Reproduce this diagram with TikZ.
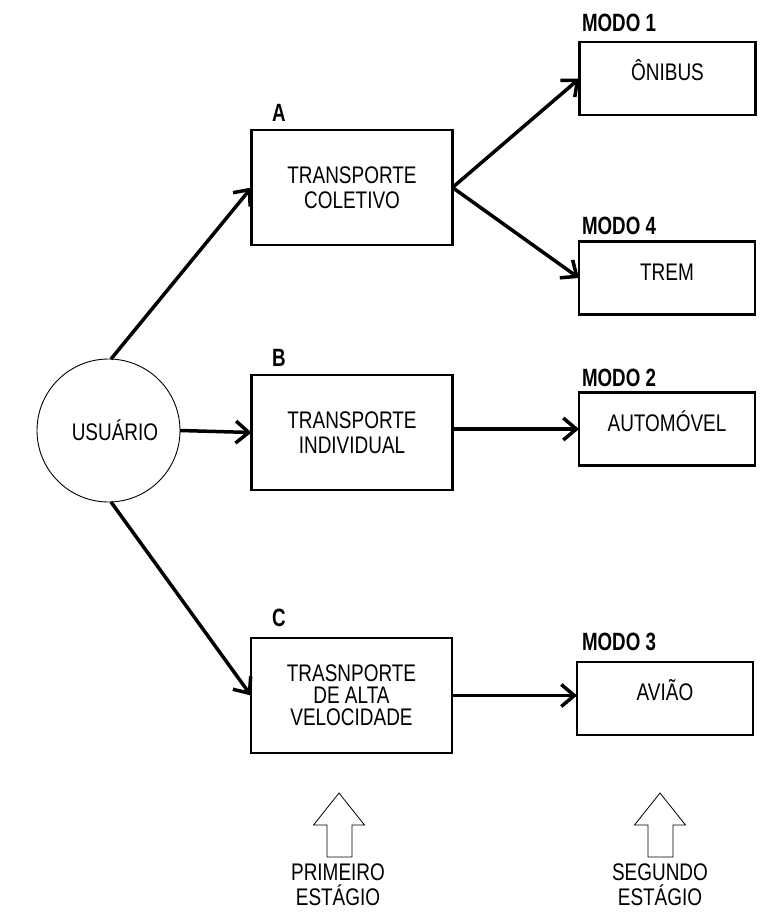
\documentclass[tikz,border=0pt]{standalone}
\usepackage{fontspec}
\setmainfont{Liberation Sans}[FakeStretch=0.79, BoldFeatures={FakeStretch=0.75}]
\usetikzlibrary{arrows.meta}
\begin{document}
\begin{tikzpicture}[x=1pt,y=-1pt,
  every node/.style={inner sep=0pt, outer sep=0pt},
  txt/.style={font=\fontsize{24}{25}\selectfont, align=center},
  lbl/.style={font=\fontsize{25}{25}\selectfont\bfseries, anchor=west},
  firstbox/.style={draw, line width=2.4pt, minimum width=201pt, txt},
  modebox/.style={draw, line width=2.4pt, minimum width=176pt, minimum height=73pt, txt, text height=17pt, text depth=13pt},
  conn/.style={line width=3.5pt, -{Straight Barb[length=13pt,width=22pt,line width=3.5pt]}},
  bigarrow/.style={draw, line width=0.8pt, line join=miter}
]
\useasboundingbox (0,0) rectangle (765,913);

% user
\node[draw, circle, line width=0.9pt, minimum size=143pt] (user) at (108.5,430.5) {};
\node[txt] (usertxt) at (115,430) {USUÁRIO};

% first stage boxes
\node[firstbox, minimum height=115pt] (A) at (352,187.5) {TRANSPORTE\\COLETIVO};
\node[firstbox, minimum height=115pt] (B) at (352,432.5) {TRANSPORTE\\INDIVIDUAL};
\node[firstbox, minimum height=115pt, font=\fontsize{24}{22}\selectfont] (C) at (351.5,695.5) {TRASNPORTE\\DE ALTA\\VELOCIDADE};

\node[lbl] (la) at (272,113) {A};
\node[lbl] (lb) at (272,358) {B};
\node[lbl] (lc) at (272,618) {C};

% second stage boxes
\node[modebox] (onibus) at (667.5,78.5) {ÔNIBUS};
\node[modebox] (trem) at (667,278) {TREM};
\node[modebox] (auto) at (667,429) {AUTOMÓVEL};
\node[modebox] (aviao) at (665,698.5) {AVIÃO};

\node[lbl] (m1) at (582,23) {MODO 1};
\node[lbl] (m4) at (582,226) {MODO 4};
\node[lbl] (m2) at (582,378) {MODO 2};
\node[lbl] (m3) at (582,642) {MODO 3};

% connectors
\draw[conn] (user.88) -- (A.west);
\draw[conn] (user.east) -- (B.west);
\draw[conn] (user.272) -- (C.west);
\draw[conn] (A.east) -- (onibus.west);
\draw[conn] (A.east) -- (trem.west);
\draw[conn] (B.east |- auto.west) -- (auto.west);
\draw[conn] (C.east) -- (C.east -| aviao.west);

% stage arrows
\draw[bigarrow] (339,793) -- (364.5,825) -- (352,825) -- (352,857) -- (327,857) -- (327,825) -- (313.5,825) -- cycle;
\draw[bigarrow] (660,793) -- (685.5,825) -- (673,825) -- (673,857) -- (648,857) -- (648,825) -- (634.5,825) -- cycle;

\node[txt, anchor=north] (s1) at (338,864) {PRIMEIRO\\ESTÁGIO};
\node[txt, anchor=north] (s2) at (660,864) {SEGUNDO\\ESTÁGIO};
\end{tikzpicture}
\end{document}
